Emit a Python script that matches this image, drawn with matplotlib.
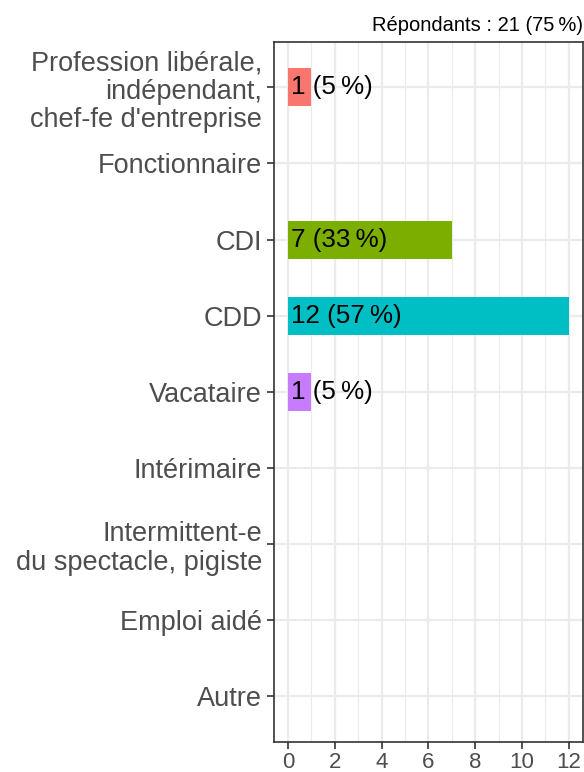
import matplotlib
matplotlib.use("Agg")
import matplotlib.pyplot as plt
from matplotlib.ticker import MultipleLocator

plt.rcParams['font.family'] = ['Liberation Sans', 'DejaVu Sans']

# ── Data ───────────────────────────────────────────────────────────────
CATEGORIES = [
    "Profession libérale,\nindépendant,\nchef-fe d'entreprise",
    "Fonctionnaire",
    "CDI",
    "CDD",
    "Vacataire",
    "Intérimaire",
    "Intermittent-e\ndu spectacle, pigiste",
    "Emploi aidé",
    "Autre",
]
COUNTS = [1, 0, 7, 12, 1, 0, 0, 0, 0]
PCTS = [5, 0, 33, 57, 5, 0, 0, 0, 0]
COLORS = ["#F8766D", None, "#7CAE00", "#00BFC4", "#C77CFF", None, None, None, None]
TITLE = "Répondants : 21 (75\u202f%)"

fig = plt.figure(figsize=(5.84, 7.72), dpi=100)
ax = fig.add_axes([0.469, 0.039, 0.529, 0.907])

ypos = list(range(len(CATEGORIES)))
for y, n, p, c in zip(ypos, COUNTS, PCTS, COLORS):
    if n == 0:
        continue
    ax.barh(y, n, height=0.5, color=c, zorder=2)
    ax.text(0.12, y, f"{n} ({p}\u202f%)", ha="left", va="center",
            fontsize=18.7, color="black", zorder=3)

ax.set_xlim(-0.6, 12.6)
ax.set_ylim(len(CATEGORIES) - 0.4, -0.6)
ax.set_yticks(ypos)
ax.set_yticklabels(CATEGORIES, fontsize=19.5, color="#4D4D4D", linespacing=1.13)
ax.xaxis.set_major_locator(MultipleLocator(2))
ax.xaxis.set_minor_locator(MultipleLocator(1))
ax.tick_params(axis="x", labelsize=16, labelcolor="#4D4D4D", colors="#333333",
               length=5, width=1.2, pad=2)
ax.tick_params(axis="x", which="minor", length=0)
ax.tick_params(axis="y", colors="#333333", length=5, width=1.2, labelcolor="#4D4D4D")
ax.grid(True, which="major", color="#EBEBEB", lw=1.6, zorder=0)
ax.grid(True, which="minor", axis="x", color="#EBEBEB", lw=0.8, zorder=0)
ax.set_axisbelow(True)
for s in ax.spines.values():
    s.set_color("#333333")
    s.set_linewidth(1.2)

ax.set_title(TITLE, loc="right", fontsize=14.5, color="black", pad=8)

fig.savefig("out.png", dpi=100)
